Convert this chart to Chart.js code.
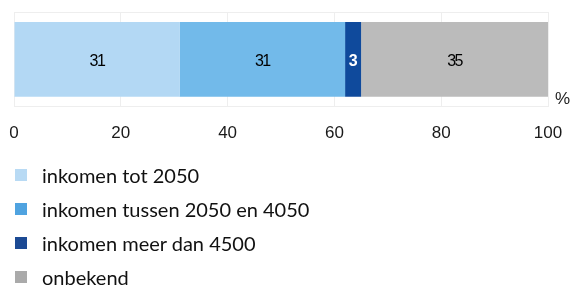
<!DOCTYPE html>
<html lang="nl">
<head>
<meta charset="UTF-8">
<title>Inkomen</title>
<script src="https://cdn.jsdelivr.net/npm/chart.js"></script>
<style>
    body { margin: 0; background: #fff; }
    .wrap { position: relative; width: 572px; height: 288px; }
    .chart-box { position: absolute; left: 0; top: 0; width: 572px; height: 161px; }
    #legend { position: absolute; left: 15px; top: 158px; margin: 0; padding: 0; list-style: none;
              font-family: Lato, "Open Sans", sans-serif; font-size: 20px; color: #111; }
    #legend li { height: 34px; line-height: 34px; display: flex; align-items: center; }
    #legend span.box { width: 12px; height: 12px; margin-right: 15px; display: inline-block; }
</style>
</head>
<body>
<div class="wrap">
    <div class="chart-box"><canvas id="chart"></canvas></div>
    <ul id="legend"></ul>
</div>
<script>
    const categories = [''];
    const seriesNames = ['inkomen tot 2050', 'inkomen tussen 2050 en 4050', 'inkomen meer dan 4500', 'onbekend'];
    const seriesValues = [[31], [31], [3], [35]];
    const barColors = ['#b3d8f4', '#72baea', '#0f4a9c', '#bbbbbb'];
    const legendColors = ['#b8daf4', '#4fa3e0', '#1c4a94', '#aaaaaa'];
    const labelColors = ['#000', '#000', '#fff', '#000'];
    const xTicks = [0, 20, 40, 60, 80, 100];

    // values written in the middle of each segment, plus the % unit
    const barLabels = {
        id: 'barLabels',
        afterDatasetsDraw(chart) {
            const ctx = chart.ctx;
            ctx.save();
            ctx.textAlign = 'center';
            ctx.textBaseline = 'middle';
            chart.data.datasets.forEach((ds, i) => {
                chart.getDatasetMeta(i).data.forEach((bar, j) => {
                    const p = bar.getProps(['x', 'y', 'base']);
                    ctx.fillStyle = labelColors[i];
                    ctx.letterSpacing = i === 2 ? '0px' : '-1.5px';
                    ctx.font = (i === 2 ? 'bold ' : '') + '16px "Liberation Sans", Arial, sans-serif';
                    ctx.fillText(ds.data[j], (p.x + p.base) / 2, p.y + 2);
                });
            });
            ctx.letterSpacing = '0px';
            ctx.fillStyle = '#222';
            ctx.font = '17px "Liberation Sans", Arial, sans-serif';
            ctx.textAlign = 'left';
            ctx.fillText('%', chart.chartArea.right + 7, chart.chartArea.bottom - 7);
            ctx.restore();
        }
    };

    new Chart(document.getElementById('chart'), {
        type: 'bar',
        data: {
            labels: categories,
            datasets: seriesNames.map((name, i) => ({
                label: name,
                data: seriesValues[i],
                backgroundColor: barColors[i],
                barPercentage: 0.79,
                categoryPercentage: 1
            }))
        },
        options: {
            indexAxis: 'y',
            responsive: true,
            maintainAspectRatio: false,
            animation: false,
            layout: { padding: { left: 14, right: 24, top: 12, bottom: 0 } },
            plugins: { legend: { display: false }, tooltip: { enabled: false } },
            scales: {
                x: {
                    stacked: true,
                    min: 0,
                    max: 100,
                    afterBuildTicks: axis => { axis.ticks = xTicks.map(v => ({ value: v })); },
                    afterFit: axis => { axis.paddingLeft = 0; axis.paddingRight = 0; },
                    grid: { color: '#eeeeee', drawTicks: false },
                    border: { display: false },
                    ticks: {
                        padding: 17,
                        color: '#1a1a1a',
                        font: { family: '"Liberation Sans", Arial, sans-serif', size: 17 }
                    }
                },
                y: {
                    stacked: true,
                    afterFit: axis => { axis.width = 0; },
                    grid: { color: '#eeeeee', offset: true, drawTicks: false },
                    border: { display: false },
                    ticks: { display: false }
                }
            }
        },
        plugins: [barLabels]
    });

    const legend = document.getElementById('legend');
    seriesNames.forEach((name, i) => {
        const li = document.createElement('li');
        li.innerHTML = '<span class="box" style="background:' + legendColors[i] + '"></span>' + name;
        legend.appendChild(li);
    });
</script>
</body>
</html>
